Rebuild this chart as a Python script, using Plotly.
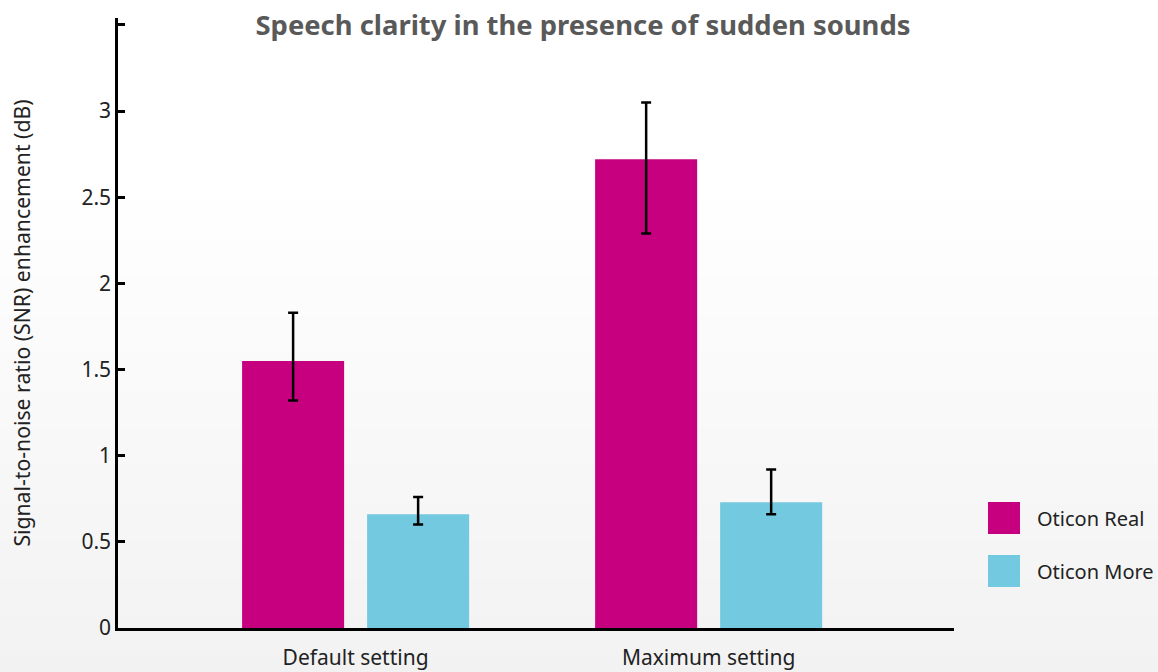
import plotly.graph_objects as go

categories = ["Default setting", "Maximum setting"]
series_names = ["Oticon Real", "Oticon More"]
real_values = [1.55, 2.72]
real_upper = [1.83, 3.05]
real_lower = [1.32, 2.29]
more_values = [0.66, 0.73]
more_upper = [0.76, 0.92]
more_lower = [0.60, 0.66]
colors = ["#c6007e", "#73c9df"]
y_tickvals = [0, 0.5, 1, 1.5, 2, 2.5, 3, 3.5]
y_ticktext = ["0", "0.5", "1", "1.5", "2", "2.5", "3", ""]

FONT = "Noto Sans"
W, H = 1158, 672
ML, MT = 118, 18
PLOT_W, PLOT_H = 836, 610
MR = W - ML - PLOT_W
MB = H - MT - PLOT_H


def py2paper(py):
    return (H - MB - py) / PLOT_H


def px2paper(px):
    return (px - ML) / PLOT_W


fig = go.Figure()
series = [
    (series_names[0], real_values, real_upper, real_lower, colors[0], -0.3215),
    (series_names[1], more_values, more_upper, more_lower, colors[1], 0.0326),
]
for name, vals, up, lo, col, off in series:
    fig.add_trace(go.Bar(
        x=categories, y=vals, name=name, marker_color=col, marker_line_width=0,
        width=0.289, offset=off, showlegend=False,
        error_y=dict(type="data", symmetric=False,
                     array=[u - v for u, v in zip(up, vals)],
                     arrayminus=[v - l for v, l in zip(vals, lo)],
                     color="black", thickness=2.5, width=5),
    ))

shapes = []
# background gradient (white at top, light grey at bottom)
step = 4
for py in range(0, H + step, step):
    c = 255 if py < 180 else 255 - 13 * (py - 180) / (H - 180)
    c = int(round(max(242, c)))
    shapes.append(dict(type="rect", xref="paper", yref="paper", x0=-0.3, x1=1.4,
                       y0=py2paper(py + step), y1=py2paper(py),
                       fillcolor=f"rgb({c},{c},{c})",
                       line=dict(width=0), layer="below"))

# legend (large squares)
annotations = []
leg_y = [518, 571]
for name, col, cy in zip(series_names, colors, leg_y):
    shapes.append(dict(type="rect", xref="paper", yref="paper",
                       x0=px2paper(988), x1=px2paper(1020),
                       y0=py2paper(cy + 16), y1=py2paper(cy - 16),
                       fillcolor=col, line=dict(width=0), layer="above"))
    annotations.append(dict(xref="paper", yref="paper", x=px2paper(1035),
                            y=py2paper(cy), text=name, showarrow=False,
                            xanchor="left", yanchor="middle",
                            font=dict(family=FONT, size=20, color="#222222")))

fig.update_layout(
    width=W, height=H,
    margin=dict(l=ML, r=MR, t=MT, b=MB),
    paper_bgcolor="#f2f2f2", plot_bgcolor="rgba(0,0,0,0)",
    title=dict(text="<b>Speech clarity in the presence of sudden sounds</b>",
               x=583 / W, xanchor="center", y=1 - 16 / H, yanchor="top",
               pad=dict(t=0),
               font=dict(family=FONT, size=27.4, color="#595959")),
    font=dict(family=FONT, size=21, color="#222222"),
    barmode="group",
    shapes=shapes, annotations=annotations,
    xaxis=dict(type="category", range=[-0.673, 1.695], showgrid=False,
               showline=True, linecolor="black", linewidth=2.5, ticks="",
               ticklabelstandoff=9, automargin=False,
               tickfont=dict(size=21, color="#222222"), zeroline=False),
    yaxis=dict(range=[0, 3.54], tickvals=y_tickvals, ticktext=y_ticktext,
               showgrid=False, zeroline=False, showline=True, linecolor="black",
               linewidth=2.5, ticks="inside", ticklen=7, tickwidth=2.5,
               tickcolor="black", ticklabelstandoff=0, automargin=False,
               tickfont=dict(size=21, color="#222222"),
               title=dict(text="Signal-to-noise ratio (SNR) enhancement (dB)",
                          font=dict(size=21.2, color="#222222"), standoff=45)),
)

fig.write_html(
    "out.html",
    config={"displayModeBar": False},
    post_script="document.body.style.margin='0';"
                "document.documentElement.style.overflow='hidden';"
                "document.body.style.overflow='hidden';",
)
